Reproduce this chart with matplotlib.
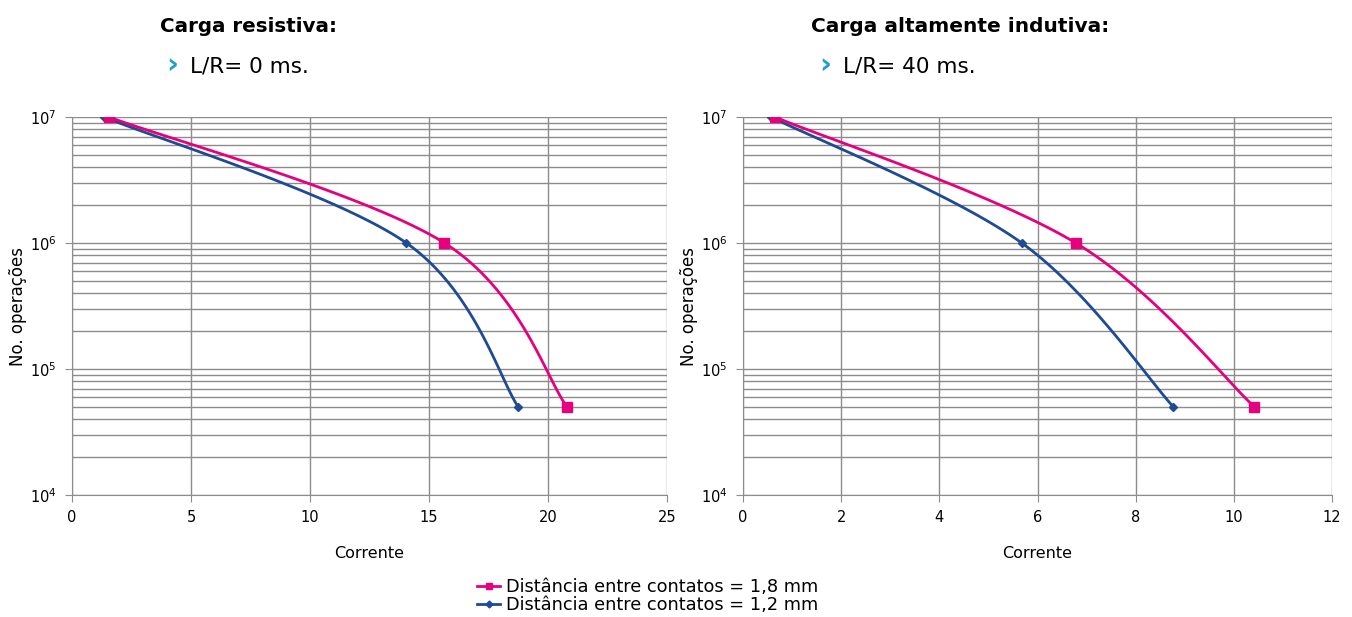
import numpy as np
import matplotlib
matplotlib.use("Agg")
import matplotlib.pyplot as plt
from matplotlib.lines import Line2D

plt.rcParams['font.family'] = ['DejaVu Sans']

## Data
res_x_18 = [1.55, 15.65, 20.8]
res_x_12 = [1.35, 14.05, 18.75]
ind_x_18 = [0.65, 6.78, 10.42]
ind_x_12 = [0.57, 5.68, 8.77]
ops = [1e7, 1e6, 5e4]

label_18 = "Distância entre contatos = 1,8 mm"
label_12 = "Distância entre contatos = 1,2 mm"
pink = "#e6007e"
blue = "#1f4a94"
grid_col = "#8c8c8c"


def smooth(xs, ys, xmax, n=60):
    # Catmull-Rom style smoothing in axis space (x, log y), like Excel's smoothed line
    px = np.array(xs) / xmax
    py = (np.log10(ys) - 4) / 3.0
    pts = np.column_stack([px, py])
    out = []
    for i in range(len(pts) - 1):
        p0 = pts[i - 1] if i > 0 else pts[i]
        p1, p2 = pts[i], pts[i + 1]
        p3 = pts[i + 2] if i + 2 < len(pts) else pts[i + 1]
        c1 = p1 + (p2 - p0) / 6.0
        c2 = p2 - (p3 - p1) / 6.0
        t = np.linspace(0, 1, n)[:, None]
        seg = (1 - t) ** 3 * p1 + 3 * (1 - t) ** 2 * t * c1 + 3 * (1 - t) * t ** 2 * c2 + t ** 3 * p2
        out.append(seg)
    seg = np.vstack(out)
    return seg[:, 0] * xmax, 10 ** (seg[:, 1] * 3.0 + 4)


def setup(ax, xmax, step):
    ax.set_yscale('log')
    ax.set_xlim(0, xmax)
    ax.set_ylim(1e4, 1e7)
    ax.set_xticks(np.arange(0, xmax + 0.01, step))
    ax.set_yticks([1e4, 1e5, 1e6, 1e7])
    ax.grid(True, which='major', color=grid_col, lw=1)
    ax.grid(True, which='minor', axis='y', color=grid_col, lw=1)
    ax.tick_params(axis='y', which='minor', length=0)
    ax.tick_params(axis='both', which='major', length=5, color=grid_col, labelsize=10.5, pad=6)
    for s in ax.spines.values():
        s.set_visible(False)
    ax.spines['left'].set_visible(True)
    ax.spines['bottom'].set_visible(True)
    ax.spines['left'].set_color(grid_col)
    ax.spines['bottom'].set_color(grid_col)
    ax.set_xlabel("Corrente", fontsize=11.5, labelpad=15)
    ax.set_ylabel("No. operações", fontsize=12, labelpad=2)


def draw(ax, x18, x12, xmax):
    sx, sy = smooth(x12, ops, xmax)
    ax.plot(sx, sy, color=blue, lw=2, zorder=3)
    ax.plot(x12, ops, 'D', color=blue, ms=4, zorder=4)
    sx, sy = smooth(x18, ops, xmax)
    ax.plot(sx, sy, color=pink, lw=2, zorder=3)
    ax.plot(x18, ops, 's', color=pink, ms=6.5, zorder=4)


fig = plt.figure(figsize=(13.52, 6.17), dpi=100)
ax1 = fig.add_axes([72 / 1352, 122 / 617, 595 / 1352, 378 / 617])
ax2 = fig.add_axes([743 / 1352, 122 / 617, 589 / 1352, 378 / 617])

setup(ax1, 25, 5)
setup(ax2, 12, 2)
draw(ax1, res_x_18, res_x_12, 25)
draw(ax2, ind_x_18, ind_x_12, 12)

# Headings
fig.text(248 / 1352, 1 - 32 / 617, "Carga resistiva:", fontsize=14.3, fontweight='bold', ha='center', va='baseline')
fig.text(166 / 1352, 1 - 73 / 617, "›", fontsize=21, color="#1a9fd0", ha='left', va='baseline', fontweight='bold')
fig.text(190 / 1352, 1 - 73 / 617, "L/R= 0 ms.", fontsize=15.5, ha='left', va='baseline')
fig.text(960 / 1352, 1 - 32 / 617, "Carga altamente indutiva:", fontsize=14.5, fontweight='bold', ha='center', va='baseline')
fig.text(819 / 1352, 1 - 73 / 617, "›", fontsize=21, color="#1a9fd0", ha='left', va='baseline', fontweight='bold')
fig.text(843 / 1352, 1 - 73 / 617, "L/R= 40 ms.", fontsize=15.5, ha='left', va='baseline')

handles = [
    Line2D([], [], color=pink, lw=2, marker='s', ms=5),
    Line2D([], [], color=blue, lw=2, marker='D', ms=3.5),
]
fig.legend(handles, [label_18, label_12], loc='center left', bbox_to_anchor=(477 / 1352, 1 - 596 / 617),
           frameon=False, fontsize=12.8, handlelength=1.3, handletextpad=0.35, labelspacing=0.0,
           borderpad=0, borderaxespad=0)

fig.savefig("out.png", dpi=100)
